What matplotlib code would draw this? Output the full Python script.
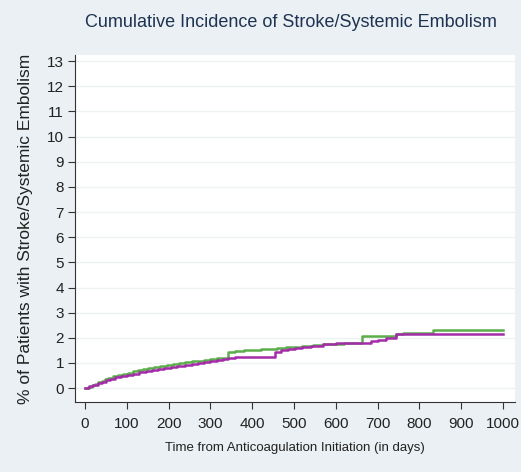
import matplotlib
matplotlib.use("Agg")
import matplotlib.pyplot as plt

green_days = [0, 8, 16, 24, 32, 40, 48, 56, 66, 78, 90, 102, 114, 126, 138, 150, 165, 180, 195, 210, 225, 240, 255, 270, 285, 300, 315, 330, 343, 360, 380, 400, 420, 440, 460, 480, 500, 520, 545, 569, 595, 620, 662, 745, 762, 833, 1000]
green_vals = [0, 0.06, 0.12, 0.18, 0.24, 0.3, 0.36, 0.42, 0.47, 0.52, 0.57, 0.62, 0.67, 0.72, 0.77, 0.81, 0.85, 0.89, 0.93, 0.96, 0.99, 1.03, 1.06, 1.09, 1.12, 1.15, 1.18, 1.21, 1.42, 1.46, 1.5, 1.53, 1.55, 1.57, 1.6, 1.62, 1.64, 1.66, 1.7, 1.74, 1.77, 1.8, 2.07, 2.14, 2.2, 2.33, 2.33]

purple_days = [0, 10, 20, 30, 40, 50, 60, 72, 86, 100, 115, 130, 145, 160, 175, 190, 205, 220, 239, 255, 270, 285, 300, 315, 330, 343, 360, 439, 455, 470, 485, 502, 520, 540, 569, 600, 670, 685, 700, 720, 745, 1000]
purple_vals = [0, 0.07, 0.14, 0.2, 0.26, 0.32, 0.38, 0.43, 0.48, 0.53, 0.58, 0.63, 0.67, 0.71, 0.75, 0.79, 0.83, 0.87, 0.93, 0.97, 1.01, 1.05, 1.09, 1.13, 1.17, 1.21, 1.25, 1.25, 1.44, 1.5, 1.55, 1.6, 1.64, 1.68, 1.75, 1.78, 1.8, 1.86, 1.92, 2.0, 2.14, 2.14]

x_ticks = list(range(0, 1001, 100))
y_ticks = list(range(0, 14))

title = "Cumulative Incidence of Stroke/Systemic Embolism"
xlabel = "Time from Anticoagulation Initiation (in days)"
ylabel = "% of Patients with Stroke/Systemic Embolism"

plt.rcParams['font.family'] = ['Liberation Sans', 'DejaVu Sans']

bg = '#eaf0f3'
fig = plt.figure(figsize=(5.21, 4.72), dpi=100, facecolor=bg)
ax = fig.add_axes([75/521, 1 - 402/472, 440/521, 347/472])
ax.set_facecolor('white')

ax.plot(green_days, green_vals, drawstyle='steps-post', color='#5cae4c', lw=1.8, zorder=3)
ax.plot(purple_days, purple_vals, drawstyle='steps-post', color='#a42ca8', lw=1.8, zorder=3)

ax.set_xlim(-24, 1029)
ax.set_ylim(-0.55, 13.24)
ax.set_xticks(x_ticks)
ax.set_yticks(y_ticks)
ax.grid(axis='y', color='#eef2f4', lw=1.0)
ax.set_axisbelow(True)

for s in ['top', 'right']:
    ax.spines[s].set_visible(False)
for s in ['left', 'bottom']:
    ax.spines[s].set_color('#333333')
    ax.spines[s].set_linewidth(0.8)

ax.tick_params(axis='both', direction='out', length=5, width=0.8, color='#333333',
               labelsize=11, labelcolor='#222222')
ax.tick_params(axis='x', pad=6)
ax.tick_params(axis='y', pad=3)

ax.set_title(title, fontsize=13, color='#1e3352', pad=20, x=0.49)
ax.set_xlabel(xlabel, fontsize=9.5, color='#222222', labelpad=8)
ax.set_ylabel(ylabel, fontsize=12.5, color='#222222', labelpad=10)

fig.savefig('out.png', dpi=100, facecolor=bg)
